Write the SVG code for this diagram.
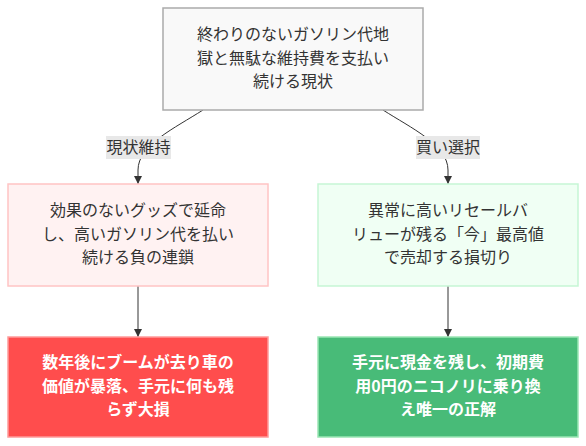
<svg xmlns="http://www.w3.org/2000/svg" width="586" height="446" viewBox="0 0 586 446">
<defs>
<style>
text{font-family:"Noto Sans CJK JP","Liberation Sans",sans-serif;font-size:16px;text-anchor:middle;fill:#333}
.w{fill:#fff;font-weight:bold}
.edge{fill:none;stroke:#333;stroke-width:1}
.lbl{fill:#e8e8e8}
</style>
<marker id="ah" viewBox="0 0 10 10" refX="10" refY="5" markerWidth="8" markerHeight="8" markerUnits="userSpaceOnUse" orient="auto">
<path d="M0,0 L10,5 L0,10 z" fill="#333"/>
</marker>
</defs>
<rect width="586" height="446" fill="#fff"/>
<g id="connectors">
<path class="edge" d="M203,110 C175,128 138,145 138,170 L138,184" marker-end="url(#ah)"/>
<path class="edge" d="M383,110 C411,128 448,145 448,170 L448,184" marker-end="url(#ah)"/>
<path class="edge" d="M138,286 L138,337" marker-end="url(#ah)"/>
<path class="edge" d="M448,286 L448,337" marker-end="url(#ah)"/>
<rect class="lbl" x="106" y="136" width="65" height="23"/>
<text x="138.5" y="153">現状維持</text>
<rect class="lbl" x="416" y="136" width="64" height="23"/>
<text x="448" y="153">買い選択</text>
</g>
<g id="top">
<rect x="163" y="8" width="260" height="102" fill="#f9f9f9" stroke="#aaa" stroke-width="1.5"/>
<text x="293" y="40">終わりのないガソリン代地</text>
<text x="293" y="63.5">獄と無駄な維持費を支払い</text>
<text x="293" y="87">続ける現状</text>
</g>
<g id="keep">
<rect x="8" y="184" width="260" height="102" fill="#fff2f2" stroke="#ffc4c4" stroke-width="1.5"/>
<text x="138" y="216">効果のないグッズで延命</text>
<text x="138" y="239.5">し、高いガソリン代を払い</text>
<text x="138" y="263">続ける負の連鎖</text>
</g>
<g id="sell">
<rect x="318" y="184" width="260" height="102" fill="#f0fff4" stroke="#c6f6d5" stroke-width="1.5"/>
<text x="448" y="216">異常に高いリセールバ</text>
<text x="448" y="239.5">リューが残る「今」最高値</text>
<text x="448" y="263">で売却する損切り</text>
</g>
<g id="loss">
<rect x="8" y="337" width="260" height="100" fill="#ff4d4d" stroke="#ff9a9a" stroke-width="1.5"/>
<text class="w" x="138" y="368">数年後にブームが去り車の</text>
<text class="w" x="138" y="391.5">価値が暴落、手元に何も残</text>
<text class="w" x="138" y="415">らず大損</text>
</g>
<g id="win">
<rect x="318" y="337" width="260" height="100" fill="#48bb78" stroke="#9ae6b4" stroke-width="1.5"/>
<text class="w" x="448" y="368">手元に現金を残し、初期費</text>
<text class="w" x="448" y="391.5">用0円のニコノリに乗り換</text>
<text class="w" x="448" y="415">え唯一の正解</text>
</g>
</svg>
